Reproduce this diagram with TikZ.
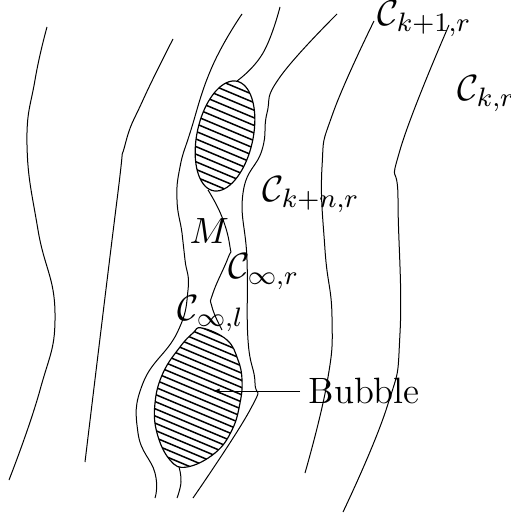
\documentclass[tikz,border=0pt]{standalone}
\usetikzlibrary{arrows.meta}
\begin{document}
\begin{tikzpicture}[x=0.3pt,y=-0.3pt,
  curve/.style={line width=0.3pt},
  hatch/.style={line width=0.45pt},
  lbl/.style={anchor=base west,inner sep=0pt,font=\fontsize{11}{13}\selectfont},
  bub/.style={line width=0.35pt}]
\useasboundingbox (0,0) rectangle (510,516);
% curves
\draw[curve] plot[smooth,tension=0.8] coordinates {(47,27) (35,80) (27,145) (38,230) (55,313) (40,390) (9,480)};
\draw[curve] plot[smooth,tension=0.8] coordinates {(173,39) (143,100) (125,145) (117,200) (85,462)};
\draw[curve] plot[smooth,tension=0.8] coordinates {(242,14) (212,67) (190,133) (180,167) (177,200) (182,233) (185,260) (188,290) (177,333) (143,383) (138,433) (155,473) (155,498)};
\draw[curve] plot[smooth,tension=0.8] coordinates {(208,190) (222,217) (230,247) (228,258) (213,293) (212,307) (222,330)};
\draw[curve] plot[smooth,tension=0.8] coordinates {(179,467) (181,482) (177,498)};
\draw[curve] plot[smooth,tension=0.8] coordinates {(237,81) (263,53) (280,7)};
\draw[curve] plot[smooth,tension=0.8] coordinates {(337,14) (280,77) (267,113) (262,150) (243,193) (247,260) (248,340) (255,383) (250,410) (193,498)};
\draw[curve] plot[smooth,tension=0.8] coordinates {(374,21) (333,113) (322,167) (325,250) (332,317) (327,383) (305,473)};
\draw[curve] plot[smooth,tension=0.8] coordinates {(449,25) (400,150) (398,200) (400,333) (387,407) (343,512)};
% upper bubble
\def\upperbubble{plot[domain=0:360,samples=72,smooth] ({225+56*cos(\x)*0.213+28*sin(\x)*0.977},{136-56*cos(\x)*0.977+28*sin(\x)*0.213}) -- cycle}
\begin{scope}
  \clip \upperbubble;
  \foreach \i in {-12,...,12} \draw[hatch] (125,{136+\i*7.6-42}) -- ++(200,84);
\end{scope}
\draw[bub] \upperbubble;
% lower bubble
\def\lowerbubble{plot[smooth cycle,tension=0.7] coordinates {(202,328) (227,340) (238,360) (242,380) (240,403) (232,430) (215,453) (187,467) (170,460) (157,433) (155,403) (163,373) (180,347) (193,333)}}
\begin{scope}
  \clip \lowerbubble;
  \foreach \i in {-16,...,16} \draw[hatch] (98,{398+\i*7.2-42}) -- ++(200,84);
\end{scope}
\draw[bub] \lowerbubble;
% labels
\node[lbl] (ck1) at (377,26) {$\mathcal{C}_{k+1,r}$};
\node[lbl] (ck) at (457,101) {$\mathcal{C}_{k,r}$};
\node[lbl] (ckn) at (262,202) {$\mathcal{C}_{k+n,r}$};
\node[lbl] (m) at (189,244) {$M$};
\node[lbl] (cir) at (228,279) {$\mathcal{C}_{\infty,r}$};
\node[lbl] (cil) at (177,321) {$\mathcal{C}_{\infty,l}$};
\node[lbl] (bubble) at (308,403) {Bubble};
\coordinate (tgt) at (213,391);
\draw[line width=0.3pt,-{Latex[length=2pt,width=1.6pt]}] (bubble.west |- tgt) ++(-8,0) -- (tgt);
\end{tikzpicture}
\end{document}
